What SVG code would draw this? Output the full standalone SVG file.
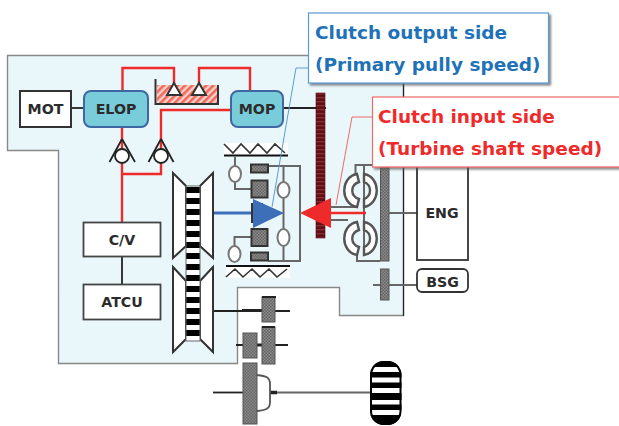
<svg xmlns="http://www.w3.org/2000/svg" width="619" height="426" viewBox="0 0 619 426">
<style>
text{font-family:"DejaVu Sans","Liberation Sans",sans-serif;font-weight:bold}
.lbl{font-size:14.2px;fill:#2b2b2b;text-anchor:middle}
.box{fill:#fff;stroke:#333;stroke-width:2}
.pump{fill:#79cdda;stroke:#3f67a3;stroke-width:2}
.red{fill:none;stroke:#ee2a2a;stroke-width:2.4}
.blk{fill:none;stroke:#222;stroke-width:1.8}
.gry{fill:none;stroke:#666;stroke-width:2}
.cone{fill:#fff;stroke:#333;stroke-width:2}
.gear{fill:url(#hatch);stroke:#555;stroke-width:1}
.dk{fill:url(#hatch);stroke:#333;stroke-width:2}
.oval{fill:#fff;stroke:#777;stroke-width:2}
.tor{fill:#fff;stroke:#555;stroke-width:2.400}
.cv{fill:none;stroke:#222;stroke-width:1.8}
.big{font-size:18.5px}
</style>
<defs>
<pattern id="hatch" width="3" height="3" patternUnits="userSpaceOnUse"><rect width="3" height="3" fill="#8a8a8a"/><path d="M0 0h1.500v1.500H0zM1.500 1.500H3V3H1.500z" fill="#666"/></pattern>
<pattern id="tankh" width="5" height="5" patternUnits="userSpaceOnUse" patternTransform="rotate(45)"><rect width="5" height="5" fill="#fbd0c8"/><rect width="2.600" height="5" fill="#ee6a5c"/></pattern>
<pattern id="redg" width="9" height="4" patternUnits="userSpaceOnUse"><rect width="9" height="4" fill="#5e1016"/><rect y="1" width="9" height="1.400" fill="#8f2a30"/></pattern>
<pattern id="belt" width="10" height="11" patternUnits="userSpaceOnUse" y="187"><rect width="10" height="11" fill="#000"/><rect y="6" width="20" height="5" fill="#fff"/></pattern>
<filter id="sh" x="-5%" y="-10%" width="112%" height="125%"><feDropShadow dx="2" dy="2" stdDeviation="1.200" flood-color="#555" flood-opacity=".7"/></filter>
<clipPath id="wheelclip"><rect x="370" y="361" width="31.500" height="64" rx="14"/></clipPath>
</defs>

<path id="housing" d="M7.500 55.500H403.500V315.500H339.500V287.500H237.500V363.500H58.500V150.500H7.500Z" fill="#eaf7fa" stroke="#888" stroke-width="1.400"/>
<path id="right-edge" d="M403.500 84V316" fill="none" stroke="#222" stroke-width="1.200"/>

<g id="connectors">
<path class="blk" d="M71 108H84"/>
<path class="red" d="M122.500 91V68H174V85"/>
<path class="red" d="M199 85V68H250V91"/>
<path class="red" d="M231 110H161V150"/>
<path class="red" d="M122 127V222"/>
<path class="red" d="M161 162V174H122"/>
<path class="blk" d="M122 256V284"/>
<path class="blk" d="M283 108H326"/>
<path d="M213 213H256" fill="none" stroke="#3d6fb8" stroke-width="3"/>
<path class="blk" d="M213 311H290"/>
<path d="M242 310.500H263" fill="none" stroke="#222" stroke-width="3"/>
<path class="blk" d="M236 345H288"/>
<path d="M255 345H263" fill="none" stroke="#222" stroke-width="3"/>
<path class="blk" d="M213 392.500H243"/>
<path class="gry" d="M270 392.500H370"/>
<path d="M270 392.500H277" fill="none" stroke="#222" stroke-width="3.500"/>
<path class="gry" d="M389 213H417"/>
<path class="gry" d="M373 285H417"/>
<path class="gry" d="M331 207H356M331 220H348"/>
</g>

<g id="mot"><rect class="box" x="20" y="91" width="51" height="36"/><text class="lbl" x="45.500" y="114">MOT</text></g>
<g id="elop"><rect class="pump" x="84" y="91" width="64" height="36" rx="7"/><text class="lbl" x="116" y="114">ELOP</text></g>
<g id="mop"><rect class="pump" x="231" y="91" width="52" height="36" rx="7"/><text class="lbl" x="257" y="114">MOP</text></g>

<g id="tank">
<rect x="157" y="85" width="61" height="18" fill="url(#tankh)"/>
<path d="M155.500 79V104H218V85" fill="none" stroke="#333" stroke-width="2"/>
<path class="cone" d="M174 83L167 95H181Z"/><path class="cone" d="M199 83L192 95H206Z"/>
</g>

<g id="valve-1"><path class="cv" d="M122 139L109.500 162M122 139L135 162"/><circle cx="122" cy="156" r="7" fill="#fff" stroke="#222" stroke-width="1.800"/></g>
<g id="valve-2"><path class="cv" d="M161 139L148.500 162M161 139L173.500 162"/><circle cx="161" cy="156" r="7" fill="#fff" stroke="#222" stroke-width="1.800"/></g>

<g id="cv"><rect x="83.500" y="222.500" width="77" height="34" fill="#fff" stroke="#444" stroke-width="1.800"/><text class="lbl" x="122" y="245">C/V</text></g>
<g id="atcu"><rect x="83.500" y="284.500" width="77" height="35" fill="#fff" stroke="#444" stroke-width="1.800"/><text class="lbl" x="122" y="307">ATCU</text></g>

<g id="pulley">
<path class="cone" d="M173 173L186 186V246L173 258Z"/>
<path class="cone" d="M213 173L200 186V246L213 258Z"/>
<path class="cone" d="M173 267L186 281V339L173 352Z"/>
<path class="cone" d="M213 267L200 281V339L213 352Z"/>
<rect x="186" y="186" width="14" height="155" fill="url(#belt)" stroke="#666" stroke-width="1"/>
</g>

<g id="planetary">
<rect x="224" y="143" width="64" height="12" fill="#fff"/><rect x="226" y="266" width="64" height="12" fill="#fff"/>
<path d="M224 155.500H288M226 266H290" fill="none" stroke="#111" stroke-width="2"/>
<path d="M224 144L233 153L241 144L250 153L258 144L267 153L275 144L285 153" fill="none" stroke="#333" stroke-width="1.600"/>
<path d="M226 277L235 269L243 277L252 269L260 277L269 269L277 277L287 269" fill="none" stroke="#333" stroke-width="1.600"/>
<path class="gry" d="M235 157V166M235 182V189H251M268 166H300V261H268M283.500 166V182M283.500 198V229M283.500 246V261M234.500 246V237H251"/>
<rect class="dk" x="251" y="164.500" width="17" height="8"/>
<rect class="dk" x="251.500" y="180.500" width="16" height="17"/>
<rect class="dk" x="252" y="204" width="10" height="18"/>
<rect class="dk" x="251.500" y="229" width="16" height="17"/>
<rect class="dk" x="251" y="252.500" width="17" height="8"/>
<ellipse class="oval" cx="235" cy="174" rx="6" ry="8"/>
<ellipse class="oval" cx="283.500" cy="190" rx="6" ry="8"/>
<ellipse class="oval" cx="283.500" cy="237.500" rx="6" ry="8.500"/>
<ellipse class="oval" cx="234.500" cy="254" rx="6" ry="8"/>
</g>

<g id="primary-gear"><rect x="316" y="93" width="9" height="145" fill="url(#redg)" stroke="#4a0d12" stroke-width=".6"/></g>

<g id="converter">
<path class="gry" d="M355.500 175V165H380M364 165V255M357 253V261H380"/>
<path class="tor" d="M357 174C340 177 340 204 357 207L359 199C350 196 350 185 359 182Z"/>
<path class="tor" d="M364 174C381 177 381 204 364 207V199C372 196 372 185 364 182Z"/>
<path class="tor" d="M357 222C340 225 340 252 357 255L359 247C350 244 350 233 359 230Z"/>
<path class="tor" d="M364 222C381 225 381 252 364 255V247C372 244 372 233 364 230Z"/>
<rect x="380.500" y="165" width="8.500" height="96" class="gear"/>
<path d="M331 213H366" fill="none" stroke="#ee2a2a" stroke-width="2.400"/>
</g>

<g id="bsg-gear"><rect x="380.500" y="269" width="8.500" height="31" class="gear"/></g>
<g id="eng"><rect x="417" y="150" width="51" height="110" fill="#fff" stroke="#333" stroke-width="1.800"/><text class="lbl" x="442" y="218">ENG</text></g>
<g id="bsg"><rect x="417" y="269" width="51" height="23" rx="5" fill="#fff" stroke="#333" stroke-width="1.800"/><text class="lbl" x="442.500" y="287">BSG</text></g>

<g id="gears">
<rect class="gear" x="262" y="297" width="13" height="25"/><path d="M262 297H276" stroke="#222" stroke-width="2"/>
<rect class="gear" x="262" y="327" width="13" height="37"/><path d="M262 327H275" stroke="#222" stroke-width="2"/>
<rect class="gear" x="243" y="333" width="14" height="25"/>
<rect class="gear" x="243" y="363" width="14" height="61"/>
<path d="M257 375C266 376 270 377 270 384V402C270 409 266 410 257 411" fill="none" stroke="#555" stroke-width="1.800"/>
</g>

<g id="wheel">
<rect x="370" y="361" width="31.500" height="64" rx="14" fill="#fff"/>
<path clip-path="url(#wheelclip)" d="M370 361H402V367H370ZM370 372H402V377.500H370ZM370 382.500H402V388H370ZM370 393H402V400H370ZM370 404.500H402V410H370ZM370 415H402V426H370Z" fill="#000"/>
<rect x="371" y="362" width="29.500" height="62" rx="13" fill="none" stroke="#000" stroke-width="2"/>
</g>

<g id="arrows">
<path d="M253 199L284 213L253 228Z" fill="#3d6fb8"/>
<path d="M300 213L331 198V228Z" fill="#ee2a2a"/>
</g>

<g id="label-output">
<path d="M308 68H296L272 207" fill="none" stroke="#5a9bd5" stroke-width="1"/>
<rect x="308.500" y="13" width="240" height="70" fill="#fff" stroke="#5a9bd5" stroke-width="1.200" filter="url(#sh)"/>
<text class="big" x="315" y="39" fill="#1f72b8">Clutch output side</text>
<text class="big" x="315" y="71" fill="#1f72b8">(Primary pully speed)</text>
</g>
<g id="label-input">
<path d="M372 117H352L336 205" fill="none" stroke="#f06a6a" stroke-width="1"/>
<rect x="372.500" y="97" width="250" height="70" fill="#fff" stroke="#f06a6a" stroke-width="1.200" filter="url(#sh)"/>
<text class="big" x="378" y="123" fill="#ee2a2a">Clutch input side</text>
<text class="big" x="378" y="155" fill="#ee2a2a">(Turbine shaft speed)</text>
</g>
</svg>
